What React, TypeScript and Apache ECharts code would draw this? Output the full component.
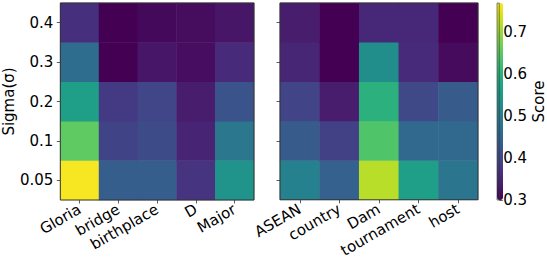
import React, { useEffect, useRef } from 'react';
import * as echarts from 'echarts';

// Sigma (y) categories, bottom to top
const sigmaLabels = ['0.05', '0.1', '0.2', '0.3', '0.4'];

// Left panel words and scores (ordered by sigma 0.05, 0.1, 0.2, 0.3, 0.4)
const leftWords = ['Gloria', 'bridge', 'birthplace', 'D', 'Major'];
const gloriaScores = [0.765, 0.653, 0.565, 0.467, 0.365];
const bridgeScores = [0.44, 0.393, 0.38, 0.3, 0.3];
const birthplaceScores = [0.44, 0.405, 0.398, 0.328, 0.31];
const dScores = [0.37, 0.347, 0.337, 0.316, 0.314];
const majorScores = [0.54, 0.486, 0.42, 0.356, 0.327];

// Right panel words and scores
const rightWords = ['ASEAN', 'country', 'Dam', 'tournament', 'host'];
const aseanScores = [0.505, 0.435, 0.395, 0.35, 0.337];
const countryScores = [0.445, 0.39, 0.337, 0.3, 0.3];
const damScores = [0.72, 0.64, 0.6, 0.53, 0.353];
const tournamentScores = [0.565, 0.458, 0.402, 0.356, 0.353];
const hostScores = [0.485, 0.458, 0.435, 0.313, 0.3];

// Colour bar range and ticks
const scoreMin = 0.3;
const scoreMax = 0.77;
const scoreTickStep = 0.1;

const viridis = [
  '#440154', '#471365', '#482475', '#463480', '#414487', '#3b528b', '#355f8d',
  '#2f6c8e', '#2a788e', '#25848e', '#21918c', '#1e9c89', '#22a884', '#2fb47c',
  '#44bf70', '#5ec962', '#7ad151', '#9bd93c', '#bddf26', '#dfe318', '#fde725',
];

const leftColumns = [gloriaScores, bridgeScores, birthplaceScores, dScores, majorScores];
const rightColumns = [aseanScores, countryScores, damScores, tournamentScores, hostScores];

function toCells(columns: number[][]) {
  const out: [number, number, number][] = [];
  columns.forEach((col, xi) => col.forEach((v, yi) => out.push([xi, yi, v])));
  return out;
}

const FONT = 'DejaVu Sans';
const FS = 15;
const tickColor = '#333';

export default function App() {
  const ref = useRef<HTMLDivElement>(null);
  useEffect(() => {
    if (!ref.current) return;
    const chart = echarts.init(ref.current, undefined, { renderer: 'svg' });
    const gridBase = {
      show: true,
      z: 10,
      backgroundColor: 'transparent',
      borderColor: '#333',
      borderWidth: 1,
      containLabel: false,
    };
    const catX = (data: string[], gridIndex: number) => ({
      type: 'category',
      gridIndex,
      data,
      axisLine: { show: false },
      axisTick: { show: true, alignWithLabel: true, interval: 0, length: 3.5, lineStyle: { color: tickColor, width: 0.8 } },
      axisLabel: {
        rotate: 30,
        interval: 0,
        hideOverlap: false,
        margin: 8,
        fontSize: FS,
        fontFamily: FONT,
        color: '#000',
      },
      splitLine: { show: false },
    });
    const catY = (gridIndex: number, showLabel: boolean) => ({
      type: 'category',
      gridIndex,
      data: sigmaLabels,
      axisLine: { show: false },
      axisTick: { show: true, alignWithLabel: true, interval: 0, length: 3.5, lineStyle: { color: tickColor, width: 0.8 } },
      axisLabel: { show: showLabel, interval: 0, margin: 7, fontSize: FS, fontFamily: FONT, color: '#000' },
      splitLine: { show: false },
      ...(showLabel
        ? {
            name: 'Sigma(σ)',
            nameLocation: 'middle',
            nameGap: 42,
            nameTextStyle: { fontSize: FS, fontFamily: FONT, color: '#000' },
          }
        : {}),
    });
    chart.setOption({
      animation: false,
      backgroundColor: '#fff',
      grid: [
        { ...gridBase, left: 57, top: 3, width: 197, height: 197 },
        { ...gridBase, left: 280, top: 3, width: 198, height: 197 },
        { ...gridBase, left: 497, top: 3, width: 6, height: 197, borderWidth: 0.6 },
      ],
      xAxis: [
        catX(leftWords, 0),
        catX(rightWords, 1),
        { type: 'category', gridIndex: 2, data: ['cb'], show: false },
      ],
      yAxis: [
        catY(0, true),
        catY(1, false),
        {
          type: 'value',
          gridIndex: 2,
          position: 'right',
          min: scoreMin,
          max: scoreMax,
          interval: scoreTickStep,
          axisLine: { show: false },
          axisTick: { show: true, length: 3.5, lineStyle: { color: tickColor, width: 0.8 } },
          axisLabel: {
            margin: 4,
            fontSize: FS,
            fontFamily: FONT,
            color: '#000',
            showMaxLabel: false,
            formatter: (v: number) => v.toFixed(1),
          },
          splitLine: { show: false },
          name: 'Score',
          nameLocation: 'middle',
          nameRotate: 90,
          nameGap: 31,
          nameTextStyle: { fontSize: FS, fontFamily: FONT, color: '#000' },
        },
      ],
      visualMap: {
        show: true,
        type: 'continuous',
        min: scoreMin,
        max: scoreMax,
        seriesIndex: [0, 1],
        inRange: { color: viridis },
        orient: 'vertical',
        left: 497,
        top: 3,
        padding: 0,
        itemWidth: 6,
        itemHeight: 197,
        text: null,
        showLabel: false,
        calculable: false,
        hoverLink: false,
        realtime: false,
      },
      series: [
        { type: 'heatmap', xAxisIndex: 0, yAxisIndex: 0, data: toCells(leftColumns) },
        { type: 'heatmap', xAxisIndex: 1, yAxisIndex: 1, data: toCells(rightColumns) },
      ],
    });
    return () => chart.dispose();
  }, []);
  return (
    <div
      ref={ref}
      style={{ position: 'fixed', left: 0, top: 0, width: 547, height: 260 }}
    />
  );
}
